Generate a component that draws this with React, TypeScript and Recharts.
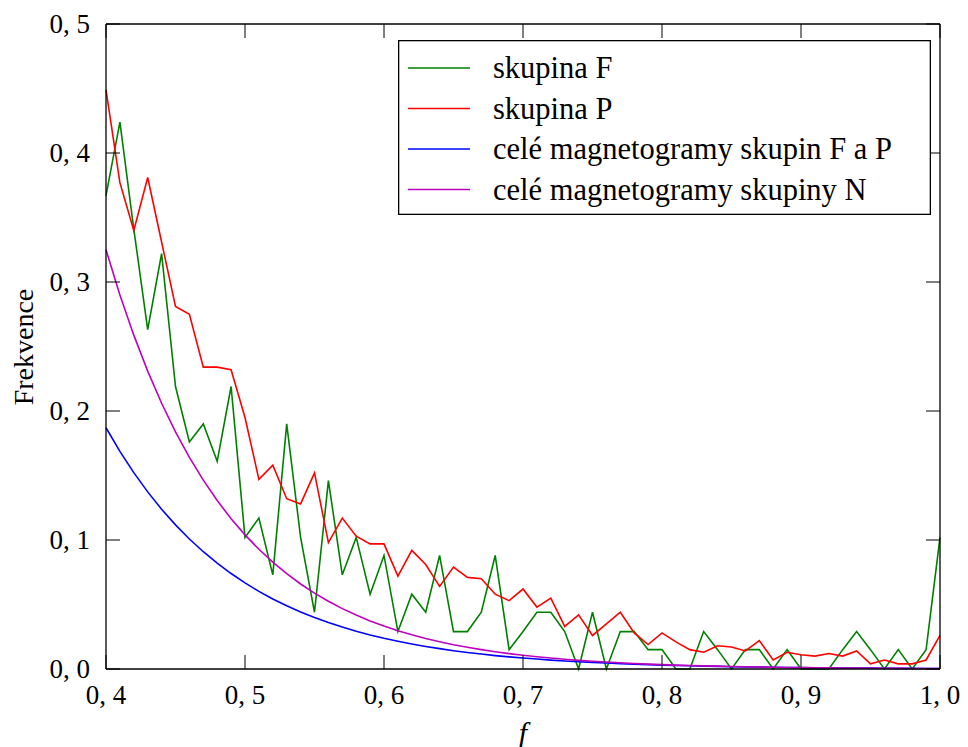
import React from 'react';
import { LineChart, Line, XAxis, YAxis, ReferenceLine, Legend } from 'recharts';

// ---- data ----
const fValues = [
  0.40, 0.41, 0.42, 0.43, 0.44, 0.45, 0.46, 0.47, 0.48, 0.49,
  0.50, 0.51, 0.52, 0.53, 0.54, 0.55, 0.56, 0.57, 0.58, 0.59,
  0.60, 0.61, 0.62, 0.63, 0.64, 0.65, 0.66, 0.67, 0.68, 0.69,
  0.70, 0.71, 0.72, 0.73, 0.74, 0.75, 0.76, 0.77, 0.78, 0.79,
  0.80, 0.81, 0.82, 0.83, 0.84, 0.85, 0.86, 0.87, 0.88, 0.89,
  0.90, 0.91, 0.92, 0.93, 0.94, 0.95, 0.96, 0.97, 0.98, 0.99,
  1.00,
];

const skupinaF = [
  0.367, 0.424, 0.341, 0.263, 0.322, 0.219, 0.176, 0.190, 0.161, 0.219,
  0.102, 0.117, 0.073, 0.190, 0.102, 0.044, 0.146, 0.073, 0.102, 0.058,
  0.088, 0.029, 0.058, 0.044, 0.088, 0.029, 0.029, 0.044, 0.088, 0.015,
  0.029, 0.044, 0.044, 0.029, 0.000, 0.044, 0.000, 0.029, 0.029, 0.015,
  0.015, 0.000, 0.000, 0.029, 0.015, 0.000, 0.015, 0.015, 0.000, 0.015,
  0.000, 0.000, 0.000, 0.015, 0.029, 0.015, 0.000, 0.015, 0.000, 0.015,
  0.102,
];

const skupinaP = [
  0.449, 0.377, 0.340, 0.381, 0.331, 0.281, 0.275, 0.234, 0.234, 0.232,
  0.195, 0.147, 0.158, 0.132, 0.128, 0.152, 0.098, 0.117, 0.103, 0.097,
  0.097, 0.072, 0.092, 0.081, 0.064, 0.079, 0.071, 0.070, 0.058, 0.053,
  0.062, 0.048, 0.055, 0.033, 0.042, 0.026, 0.035, 0.044, 0.028, 0.019,
  0.028, 0.021, 0.015, 0.013, 0.018, 0.017, 0.014, 0.022, 0.007, 0.013,
  0.011, 0.010, 0.012, 0.010, 0.014, 0.004, 0.007, 0.004, 0.004, 0.007,
  0.026,
];

const celeFP = [
  0.1870, 0.1687, 0.1522, 0.1373, 0.1238, 0.1117, 0.1008, 0.0909, 0.0820, 0.0740,
  0.0668, 0.0602, 0.0543, 0.0490, 0.0442, 0.0399, 0.0360, 0.0325, 0.0293, 0.0264,
  0.0238, 0.0215, 0.0194, 0.0175, 0.0158, 0.0142, 0.0128, 0.0116, 0.0104, 0.0094,
  0.0085, 0.0077, 0.0069, 0.0062, 0.0056, 0.0051, 0.0046, 0.0041, 0.0037, 0.0034,
  0.0030, 0.0027, 0.0025, 0.0022, 0.0020, 0.0018, 0.0016, 0.0015, 0.0013, 0.0012,
  0.0011, 0.0010, 0.0009, 0.0008, 0.0007, 0.0007, 0.0006, 0.0005, 0.0005, 0.0004,
  0.0004,
];

const celeN = [
  0.3250, 0.2900, 0.2588, 0.2309, 0.2060, 0.1838, 0.1640, 0.1464, 0.1306, 0.1165,
  0.1040, 0.0928, 0.0828, 0.0739, 0.0659, 0.0588, 0.0525, 0.0468, 0.0418, 0.0373,
  0.0333, 0.0297, 0.0265, 0.0236, 0.0211, 0.0188, 0.0168, 0.0150, 0.0134, 0.0119,
  0.0106, 0.0095, 0.0085, 0.0075, 0.0067, 0.0060, 0.0054, 0.0048, 0.0043, 0.0038,
  0.0034, 0.0030, 0.0027, 0.0024, 0.0022, 0.0019, 0.0017, 0.0015, 0.0014, 0.0012,
  0.0011, 0.0010, 0.0009, 0.0008, 0.0007, 0.0006, 0.0006, 0.0005, 0.0004, 0.0004,
  0.0004,
];

const xTicks = [0.4, 0.5, 0.6, 0.7, 0.8, 0.9, 1.0];
const yTicks = [0.0, 0.1, 0.2, 0.3, 0.4, 0.5];

const seriesKeys = ['F', 'P', 'FP', 'N'];
const seriesNames = [
  'skupina F',
  'skupina P',
  'celé magnetogramy skupin F a P',
  'celé magnetogramy skupiny N',
];
const seriesColors = ['#008000', '#ff0000', '#0000ff', '#bf00bf'];

const data = fValues.map((f, i) => ({
  f,
  F: skupinaF[i],
  P: skupinaP[i],
  FP: celeFP[i],
  N: celeN[i],
}));

// ---- layout ----
const W = 960;
const H = 739;
const PLOT_LEFT = 98;
const PLOT_RIGHT = 932;
const PLOT_TOP = 16;
const PLOT_BOTTOM = 661;
const TICK_LEN = 14;
const FONT = '"Liberation Serif", "Times New Roman", "DejaVu Serif", serif';

const fmt = (v: number) => v.toFixed(1).replace('.', ', ');

const XTick = (props: any) => {
  const { x, y, payload } = props;
  return (
    <g>
      <line x1={x} y1={y} x2={x} y2={y - TICK_LEN} stroke="#000" strokeWidth={1} />
      <line x1={x} y1={PLOT_TOP} x2={x} y2={PLOT_TOP + TICK_LEN} stroke="#000" strokeWidth={1} />
      <text x={x} y={y + 26} textAnchor="middle" dominantBaseline="central"
        style={{ fontFamily: FONT }} fontSize={27} fill="#000">{fmt(payload.value)}</text>
    </g>
  );
};

const YTick = (props: any) => {
  const { x, y, payload } = props;
  return (
    <g>
      <line x1={x} y1={y} x2={x + TICK_LEN} y2={y} stroke="#000" strokeWidth={1} />
      <line x1={PLOT_RIGHT} y1={y} x2={PLOT_RIGHT - TICK_LEN} y2={y} stroke="#000" strokeWidth={1} />
      <text x={x - 16} y={y} textAnchor="end" dominantBaseline="central"
        style={{ fontFamily: FONT }} fontSize={27} fill="#000">{fmt(payload.value)}</text>
    </g>
  );
};

const LegendBox = () => (
  <svg width={533} height={175} style={{ display: 'block' }}>
    <rect x={0.65} y={0.65} width={531.7} height={173.7} fill="#fff" stroke="#000" strokeWidth={1.3} />
    {seriesNames.map((name, i) => {
      const cy = 28 + i * 40.5;
      return (
        <g key={name}>
          <line x1={10} y1={cy} x2={72} y2={cy} stroke={seriesColors[i]} strokeWidth={1.6} />
          <text x={95} y={cy} dominantBaseline="central" style={{ fontFamily: FONT }}
            fontSize={30.5} fill="#000">{name}</text>
        </g>
      );
    })}
  </svg>
);

export default function App() {
  return (
    <div style={{ position: 'relative', width: W, height: H, background: '#fff' }}>
      <LineChart
        width={W}
        height={H}
        data={data}
        margin={{ top: PLOT_TOP, right: W - PLOT_RIGHT, bottom: 0, left: 0 }}
      >
        <XAxis
          dataKey="f"
          type="number"
          domain={[0.4, 1.0]}
          ticks={xTicks}
          interval={0}
          height={H - PLOT_BOTTOM}
          tickSize={0}
          tickMargin={0}
          tickLine={false}
          tick={<XTick />}
          axisLine={{ stroke: '#000', strokeWidth: 1.3 }}
        />
        <YAxis
          type="number"
          domain={[0, 0.5]}
          ticks={yTicks}
          interval={0}
          width={PLOT_LEFT}
          tickSize={0}
          tickMargin={0}
          tickLine={false}
          tick={<YTick />}
          axisLine={{ stroke: '#000', strokeWidth: 1.3 }}
        />
        {seriesKeys.map((k, i) => (
          <Line key={k} type="linear" dataKey={k} name={seriesNames[i]} stroke={seriesColors[i]}
            strokeWidth={1.6} dot={false} activeDot={false} isAnimationActive={false} />
        ))}
        <ReferenceLine y={0.5} stroke="#000" strokeWidth={1.3} />
        <ReferenceLine x={1.0} stroke="#000" strokeWidth={1.3} />
        <Legend
          layout="horizontal"
          verticalAlign="middle"
          align="center"
          content={<LegendBox />}
          wrapperStyle={{ left: 390, top: 32, width: 533, height: 175 }}
        />
      </LineChart>
      <div style={{
        position: 'absolute', left: 16, top: 339, transform: 'translate(-50%, -50%) rotate(-90deg)',
        fontFamily: FONT, fontSize: 28, lineHeight: 1, whiteSpace: 'nowrap', color: '#000',
      }}>Frekvence</div>
      <div style={{
        position: 'absolute', left: 515, top: 724, transform: 'translate(-50%, -50%)',
        fontFamily: FONT, fontSize: 30, fontStyle: 'italic', lineHeight: 0.9, color: '#000',
      }}>f</div>
    </div>
  );
}
